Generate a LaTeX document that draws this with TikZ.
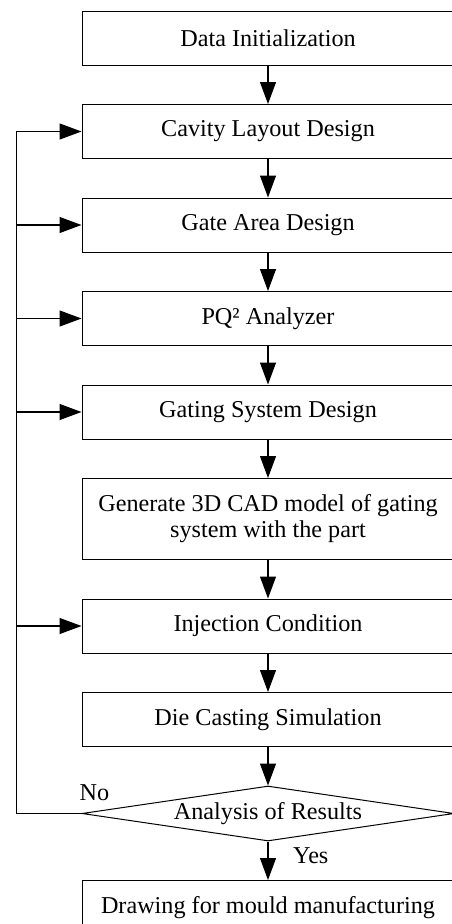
\documentclass[tikz,border=0pt]{standalone}
\usepackage{fontspec}
\setmainfont{Liberation Serif}
\usetikzlibrary{positioning,shapes.geometric,arrows.meta}
\begin{document}
\begin{tikzpicture}[x=1pt,y=1pt,node distance=38.5pt,
  box/.style={draw,line width=1pt,minimum width=372pt,minimum height=54pt,inner sep=2pt,align=center,font=\fontsize{24.2}{26}\selectfont},
  dec/.style={diamond,draw,line width=1pt,aspect=6.7,minimum width=372pt,minimum height=55pt,inner sep=0pt,font=\fontsize{24.2}{26}\selectfont},
  lbl/.style={inner sep=0pt,font=\fontsize{24.2}{26}\selectfont},
  arr/.style={-{Triangle[length=22pt,width=16pt]},line width=1.1pt}]
\useasboundingbox (0,0) rectangle (452,-924);
\node[box](data) at (268,-38) {Data Initialization};
\node[box,below=of data](cav) {Cavity Layout Design};
\node[box,below=of cav](gate) {Gate Area Design};
\node[box,below=of gate](pq) {PQ² Analyzer};
\node[box,below=of pq](gsd) {Gating System Design};
\node[box,below=of gsd,minimum height=81pt](gen) {Generate 3D CAD model of gating\\system with the part};
\node[box,below=of gen](inj) {Injection Condition};
\node[box,below=of inj](die) {Die Casting Simulation};
\node[dec,below=of die](ana) {Analysis of Results};
\node[box,below=of ana](dwg) {Drawing for mould manufacturing};
% main flow
\foreach \a/\b in {data/cav,cav/gate,gate/pq,pq/gsd,gsd/gen,gen/inj,inj/die,die/ana,ana/dwg} {
   \draw[arr] (\a.south) -- (\b.north);
}
% feedback
\draw[arr] (ana.west) -- ++(-65,0) coordinate (fb) |- (cav.west);
\foreach \n in {gate,pq,gsd,inj} {
   \draw[arr] (fb |- \n.west) -- (\n.west);
}
\node[lbl,anchor=south west](no) at ([shift={(-2,13)}]ana.west) {No};
\node[lbl,anchor=north west](yes) at ([shift={(25,-6)}]ana.south) {Yes};
\end{tikzpicture}
\end{document}
